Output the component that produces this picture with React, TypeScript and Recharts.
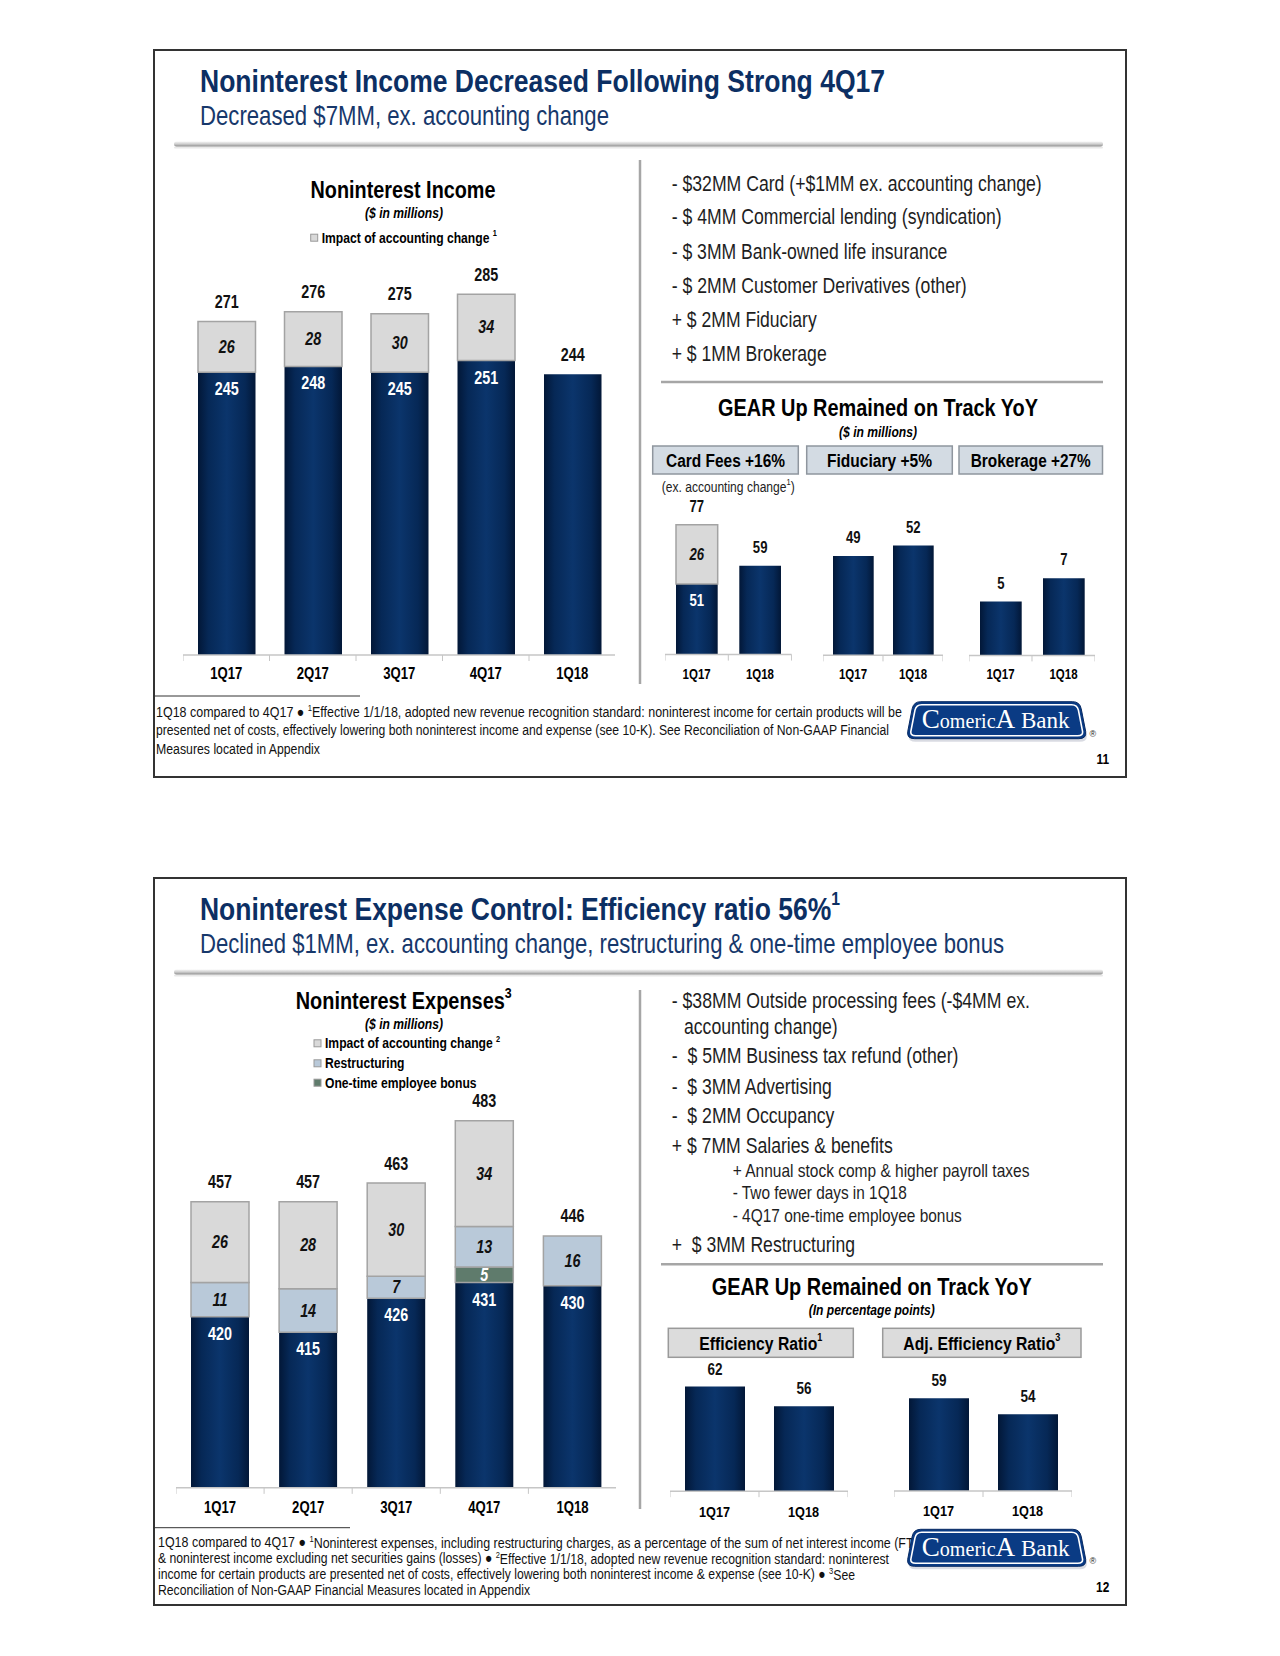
import React from "react";
import { BarChart, Bar, XAxis, YAxis, LabelList } from "recharts";

// Arial Narrow is not installed: Liberation Sans squeezed to 82% gives the same shapes.
const SANS = '"Liberation Sans", Arial, sans-serif';
const SX = 0.82;
const SERIF = '"Liberation Serif", "DejaVu Serif", serif';
const TITLE_BLUE = "#0c2f63";
const SUB_BLUE = "#17386b";
const ACCT_FILL = "#d9d9d9";
const RESTR_FILL = "#b9c9d9";
const BONUS_FILL = "#5f7b6c";
const SEG_STROKE = "#a3a3a3";

// ---- slide 11: noninterest income ----
const incomeQuarters = ["1Q17", "2Q17", "3Q17", "4Q17", "1Q18"];
const incomeCore = [245, 248, 245, 251, 244];
const incomeAccounting = [26, 28, 30, 34, 0];

const yoyQuarters = ["1Q17", "1Q18"];
const cardCore = [51, 59];
const cardAccounting = [26, 0];
const fiduciaryFees = [49, 52];
const brokerageFees = [5, 7];

// ---- slide 12: noninterest expenses ----
const expenseQuarters = ["1Q17", "2Q17", "3Q17", "4Q17", "1Q18"];
const expenseCore = [420, 415, 426, 431, 430];
const expenseBonus = [0, 0, 0, 5, 0];
const expenseRestructuring = [11, 14, 7, 13, 16];
const expenseAccounting = [26, 28, 30, 34, 0];
const efficiencyRatio = [62, 56];
const adjEfficiencyRatio = [59, 54];

type Layer = {
  key: string;
  values: number[];
  fill: string;
  stroke?: string;
  text?: "core" | "dark" | "light";
};

// narrow text: x/y is the anchor point, y is the visual middle of the line
function T(p: {
  x: number;
  y: number;
  size: number;
  bold?: boolean;
  italic?: boolean;
  color?: string;
  anchor?: "start" | "middle" | "end";
  fit?: number;
  children: React.ReactNode;
}) {
  return (
    <text
      transform={`translate(${p.x} ${p.y}) scale(${SX} 1)`}
      x={0}
      y={0}
      fontSize={p.size}
      fontFamily={SANS}
      fontWeight={p.bold ? 700 : 400}
      fontStyle={p.italic ? "italic" : "normal"}
      fill={p.color ?? "#000"}
      textAnchor={p.anchor ?? "start"}
      dominantBaseline="central"
      textLength={p.fit ? p.fit / SX : undefined}
      lengthAdjust={p.fit ? "spacingAndGlyphs" : undefined}
      style={{ whiteSpace: "pre" }}
    >
      {p.children}
    </text>
  );
}

const sup = (n: string, size: number, rise: number) => (
  <tspan fontSize={size} dy={-rise}>
    {n}
  </tspan>
);
const after = (text: string, rise: number) => <tspan dy={rise}>{text}</tspan>;

const vb = (p: any) => {
  const v = p.viewBox ?? p;
  return { x: Number(v.x), y: Number(v.y), w: Number(v.width), h: Number(v.height) };
};

// one label renderer per stacked layer: the segment value inside, and the
// stack total above the topmost non-empty segment
const stackLabels = (layers: Layer[], li: number, size: number, gap: number) => (p: any) => {
  const entry = p.value && typeof p.value === "object" ? p.value : null;
  const row = entry?.payload;
  if (!row) return null;
  const layer = layers[li];
  const v = row[layer.key];
  if (!v) return null;
  const { x, y, w, h } = vb(p);
  const above = layers.slice(li + 1).some((l) => row[l.key]);
  const top = Array.isArray(entry.value) ? entry.value[1] : entry.value;
  const core = layer.text === "core";
  return (
    <g>
      {layer.text && (!core || above) && (
        <T
          x={x + w / 2}
          y={core ? y + 17 : y + h / 2}
          size={size}
          bold
          italic={!core}
          anchor="middle"
          color={layer.text === "dark" ? "#111" : "#fff"}
        >
          {v}
        </T>
      )}
      {!above && (
        <T x={x + w / 2} y={y - gap} size={size} bold anchor="middle" color="#111">
          {top}
        </T>
      )}
    </g>
  );
};

const axisTick = (band: number, count: number, size: number, gap: number) => (p: any) => {
  const { x, y, index, payload } = p;
  return (
    <g>
      <line x1={x - band / 2} x2={x - band / 2} y1={y} y2={y + 6} stroke="#c6c6c6" />
      {index === count - 1 && (
        <line x1={x + band / 2} x2={x + band / 2} y1={y} y2={y + 6} stroke="#c6c6c6" />
      )}
      <T x={x} y={y + gap} size={size} bold anchor="middle">
        {payload.value}
      </T>
    </g>
  );
};

function StackedBars(props: {
  id: string;
  x: number;
  y: number;
  width: number;
  plotHeight: number;
  domain: [number, number];
  categories: string[];
  layers: Layer[];
  barSize: number;
  valueSize: number;
  tickSize: number;
  tickGap: number;
  totalGap: number;
}) {
  const { id, x, y, width, plotHeight, domain, categories, layers } = props;
  const data = categories.map((q, i) => {
    const row: Record<string, any> = { q };
    layers.forEach((l) => (row[l.key] = l.values[i]));
    return row;
  });
  const band = width / categories.length;
  return (
    <div style={{ position: "absolute", left: x, top: y }}>
      <BarChart
        width={width}
        height={plotHeight + 40}
        data={data}
        margin={{ top: 0, right: 0, bottom: 0, left: 0 }}
      >
        <defs>
          <linearGradient id={id} x1="0" y1="0" x2="1" y2="0">
            <stop offset="0" stopColor="#021737" />
            <stop offset="0.18" stopColor="#062856" />
            <stop offset="0.5" stopColor="#0b356c" />
            <stop offset="0.82" stopColor="#062856" />
            <stop offset="1" stopColor="#021737" />
          </linearGradient>
        </defs>
        <XAxis
          dataKey="q"
          height={40}
          interval={0}
          tickLine={false}
          tickSize={0}
          tickMargin={0}
          axisLine={{ stroke: "#c6c6c6", strokeWidth: 1.5 }}
          tick={axisTick(band, categories.length, props.tickSize, props.tickGap)}
        />
        <YAxis hide domain={domain} allowDataOverflow />
        {layers.map((l, li) => (
          <Bar
            key={l.key}
            dataKey={l.key}
            stackId="s"
            barSize={props.barSize}
            fill={l.fill === "navy" ? `url(#${id})` : l.fill}
            stroke={l.stroke}
            strokeWidth={l.stroke ? 1.5 : 0}
            isAnimationActive={false}
          >
            <LabelList
              valueAccessor={(entry: any) => entry}
              content={stackLabels(layers, li, props.valueSize, props.totalGap)}
            />
          </Bar>
        ))}
      </BarChart>
    </div>
  );
}

const OUTER =
  "M 14 1 L 166 1 Q 173 1 174.5 8 L 179 31 Q 180 38 172 38 L 8 38 Q 0 38 1 31 L 5.5 8 Q 7 1 14 1 Z";
const INNER =
  "M 15 4 L 165 4 Q 170.5 4 171.7 9.5 L 175.8 30.5 Q 176.6 35 171 35 L 9 35 Q 3.4 35 4.2 30.5 L 8.3 9.5 Q 9.5 4 15 4 Z";

function Logo({ x, y, page }: { x: number; y: number; page: string }) {
  return (
    <g>
      <g transform={`translate(${x},${y})`}>
        <path d={OUTER} transform="translate(1,3)" fill="#c9ccd6" opacity={0.7} />
        <path d={OUTER} fill="#0a3b84" stroke="#072a63" strokeWidth={1} />
        <path d={INNER} fill="none" stroke="#fff" strokeWidth={1.6} />
        <text
          x={89}
          y={27.5}
          textAnchor="middle"
          fontFamily={SERIF}
          fontSize={23}
          fill="#fff"
          textLength={148}
          lengthAdjust="spacingAndGlyphs"
        >
          <tspan fontSize={27}>C</tspan>
          <tspan fontSize={20}>omeric</tspan>
          <tspan fontSize={27}>A</tspan>
          <tspan> Bank</tspan>
        </text>
      </g>
      <text x={x + 186} y={y + 36} fontSize={9} fontFamily={SANS} fill="#222" textAnchor="middle">
        ®
      </text>
      <T x={949.7} y={710.5} size={14.5} bold anchor="middle">
        {page}
      </T>
    </g>
  );
}

function TitleRule({ id }: { id: string }) {
  return (
    <>
      <defs>
        <linearGradient id={id} x1="0" y1="0" x2="0" y2="1">
          <stop offset="0" stopColor="#f4f4f4" />
          <stop offset="0.5" stopColor="#cfcfcf" />
          <stop offset="1" stopColor="#8e8e8e" />
        </linearGradient>
      </defs>
      <rect x={21} y={97.5} width={929} height={2} rx={1} fill="#e8e8e8" />
      <rect x={21} y={92.5} width={929} height={5} rx={2.5} fill={`url(#${id})`} />
    </>
  );
}

function Slide({ top, children, overlay }: { top: number; children: React.ReactNode; overlay: React.ReactNode }) {
  return (
    <div
      style={{
        position: "absolute",
        left: 153,
        top,
        width: 974,
        height: 729,
        background: "#fff",
        boxShadow: "inset 0 0 0 2px #333",
      }}
    >
      <svg width={974} height={729} style={{ position: "absolute", left: 0, top: 0 }}>
        {overlay}
      </svg>
      {children}
    </div>
  );
}

const incomeBullets = [
  { text: "- $32MM Card (+$1MM ex. accounting change)", y: 134.3, fit: 370 },
  { text: "- $ 4MM Commercial lending (syndication)", y: 167.7, fit: 330 },
  { text: "- $ 3MM Bank-owned life insurance", y: 202, fit: 275.7 },
  { text: "- $ 2MM Customer Derivatives (other)", y: 236, fit: 295 },
  { text: "+ $ 2MM Fiduciary", y: 270, fit: 145 },
  { text: "+ $ 1MM Brokerage", y: 304.3, fit: 155 },
];

const expenseBullets = [
  { text: "- $38MM Outside processing fees (-$4MM ex.", x: 518.7, y: 123, size: 21.5, fit: 358.3 },
  { text: "accounting change)", x: 531, y: 149, size: 21.5, fit: 153.7 },
  { text: "-  $ 5MM Business tax refund (other)", x: 518.7, y: 178.7, size: 21.5, fit: 286.7 },
  { text: "-  $ 3MM Advertising", x: 518.7, y: 209, size: 21.5, fit: 160 },
  { text: "-  $ 2MM Occupancy", x: 518.7, y: 238.7, size: 21.5, fit: 162.7 },
  { text: "+ $ 7MM Salaries & benefits", x: 518.7, y: 268, size: 21.5, fit: 221 },
  { text: "+ Annual stock comp & higher payroll taxes", x: 579.7, y: 293, size: 18, fit: 296.7 },
  { text: "- Two fewer days in 1Q18", x: 579.7, y: 315.7, size: 18, fit: 174 },
  { text: "- 4Q17 one-time employee bonus", x: 579.7, y: 338.7, size: 18, fit: 229 },
  { text: "+  $ 3MM Restructuring", x: 518.7, y: 367, size: 21.5, fit: 183.3 },
];

function IncomeOverlay() {
  return (
    <>
      <T x={47} y={32} size={32} bold color={TITLE_BLUE} fit={685}>
        Noninterest Income Decreased Following Strong 4Q17
      </T>
      <T x={47} y={67} size={27} color={SUB_BLUE} fit={409}>
        Decreased $7MM, ex. accounting change
      </T>
      <TitleRule id="rule11" />
      <line x1={487} x2={487} y1={111} y2={635} stroke="#a6a6a6" strokeWidth={2.5} />

      <T x={250} y={140.3} size={24} bold anchor="middle" fit={185}>
        Noninterest Income
      </T>
      <T x={251} y={163.7} size={14} bold italic anchor="middle" fit={78}>
        ($ in millions)
      </T>
      <rect x={157.7} y={185.2} width={7} height={7} fill={ACCT_FILL} stroke="#999" strokeWidth={1} />
      <T x={168.7} y={188.7} size={14.8} bold>
        {"Impact of accounting change "}
        {sup("1", 9, 5)}
      </T>

      {incomeBullets.map((b) => (
        <T key={b.text} x={518.7} y={b.y} size={21.5} color="#1e1e1e" fit={b.fit}>
          {b.text}
        </T>
      ))}
      <line x1={508} x2={950} y1={333} y2={333} stroke="#a6a6a6" strokeWidth={2.5} />
      <T x={725} y={359} size={24} bold anchor="middle" fit={320}>
        GEAR Up Remained on Track YoY
      </T>
      <T x={725} y={382.7} size={14} bold italic anchor="middle" fit={78}>
        ($ in millions)
      </T>
      {[
        { x: 499.7, w: 145.6, label: "Card Fees +16%", fit: 119 },
        { x: 653.7, w: 145.6, label: "Fiduciary +5%", fit: 105 },
        { x: 806, w: 143.5, label: "Brokerage +27%", fit: 120 },
      ].map((b) => (
        <g key={b.label}>
          <rect x={b.x} y={397} width={b.w} height={28} fill="#d3dbe3" stroke="#8f969e" strokeWidth={1.5} />
          <T x={b.x + b.w / 2} y={411} size={19} bold anchor="middle" fit={b.fit}>
            {b.label}
          </T>
        </g>
      ))}
      <T x={508.7} y={438} size={14.5} color="#222" fit={133}>
        {"(ex. accounting change"}
        {sup("1", 9, 5)}
        {after(")", 5)}
      </T>

      <line x1={0} x2={207} y1={647} y2={647} stroke="#333" strokeWidth={1} />
      <T x={3} y={663} size={14.7} color="#111" fit={746}>
        {"1Q18 compared to 4Q17 \u25cf "}
        {sup("1", 9, 4)}
        {after(
          "Effective 1/1/18, adopted new revenue recognition standard: noninterest income for certain products will be",
          4
        )}
      </T>
      <T x={3} y={681.5} size={14.7} color="#111" fit={733}>
        presented net of costs, effectively lowering both noninterest income and expense (see 10-K). See Reconciliation of Non-GAAP Financial
      </T>
      <T x={3} y={700} size={14.7} color="#111" fit={164}>
        Measures located in Appendix
      </T>
      <Logo x={753.7} y={651.7} page="11" />
    </>
  );
}

function ExpenseOverlay() {
  return (
    <>
      <T x={47} y={32} size={32} bold color={TITLE_BLUE} fit={640}>
        {"Noninterest Expense Control: Efficiency ratio 56%"}
        {sup("1", 19, 11)}
      </T>
      <T x={47} y={67} size={27} color={SUB_BLUE} fit={804}>
        Declined $1MM, ex. accounting change, restructuring & one-time employee bonus
      </T>
      <TitleRule id="rule12" />
      <line x1={487} x2={487} y1={113} y2={632} stroke="#a6a6a6" strokeWidth={2.5} />

      <T x={250.7} y={124} size={24} bold anchor="middle" fit={216}>
        {"Noninterest Expenses"}
        {sup("3", 15, 8)}
      </T>
      <T x={251} y={147} size={14} bold italic anchor="middle" fit={78}>
        ($ in millions)
      </T>
      {[
        { y: 166.3, fill: ACCT_FILL, label: "Impact of accounting change ", sup: "2" },
        { y: 186.3, fill: RESTR_FILL, label: "Restructuring" },
        { y: 205.7, fill: BONUS_FILL, label: "One-time employee bonus" },
      ].map((l) => (
        <g key={l.label}>
          <rect x={161} y={l.y - 3.5} width={7} height={7} fill={l.fill} stroke="#999" strokeWidth={1} />
          <T x={172} y={l.y} size={14.8} bold>
            {l.label}
            {l.sup && sup(l.sup, 9, 5)}
          </T>
        </g>
      ))}

      {expenseBullets.map((b) => (
        <T key={b.text} x={b.x} y={b.y} size={b.size} color="#1e1e1e" fit={b.fit}>
          {b.text}
        </T>
      ))}
      <line x1={508} x2={950} y1={387.3} y2={387.3} stroke="#a6a6a6" strokeWidth={2.5} />
      <T x={718.7} y={409.7} size={24} bold anchor="middle" fit={320}>
        GEAR Up Remained on Track YoY
      </T>
      <T x={718.7} y={433} size={14} bold italic anchor="middle" fit={126}>
        (In percentage points)
      </T>
      {[
        { x: 515.3, w: 185, label: "Efficiency Ratio", sup: "1", fit: 123 },
        { x: 729.7, w: 198.3, label: "Adj. Efficiency Ratio", sup: "3", fit: 157 },
      ].map((b) => (
        <g key={b.label}>
          <rect x={b.x} y={451.3} width={b.w} height={29} fill="#dcdcdc" stroke="#9a9a9a" strokeWidth={1.5} />
          <T x={b.x + b.w / 2} y={466} size={19} bold anchor="middle" fit={b.fit}>
            {b.label}
            {sup(b.sup, 11, 6)}
          </T>
        </g>
      ))}

      <line x1={0} x2={197} y1={650.7} y2={650.7} stroke="#333" strokeWidth={1} />
      <T x={5} y={665.3} size={14.7} color="#111" fit={768}>
        {"1Q18 compared to 4Q17 \u25cf "}
        {sup("1", 9, 4)}
        {after(
          "Noninterest expenses, including restructuring charges, as a percentage of the sum of net interest income (FTE)",
          4
        )}
      </T>
      <T x={5} y={681.3} size={14.7} color="#111" fit={731}>
        {"& noninterest income excluding net securities gains (losses) \u25cf "}
        {sup("2", 9, 4)}
        {after("Effective 1/1/18, adopted new revenue recognition standard: noninterest", 4)}
      </T>
      <T x={5} y={697.3} size={14.7} color="#111" fit={697}>
        {"income for certain products are presented net of costs, effectively lowering both noninterest income & expense (see 10-K) \u25cf "}
        {sup("3", 9, 4)}
        {after("See", 4)}
      </T>
      <T x={5} y={713} size={14.7} color="#111" fit={372}>
        Reconciliation of Non-GAAP Financial Measures located in Appendix
      </T>
      <Logo x={753.7} y={651.3} page="12" />
    </>
  );
}

export default function App() {
  return (
    <div style={{ position: "absolute", left: 0, top: 0, width: 1280, height: 1656, background: "#fff" }}>
      <Slide top={49} overlay={<IncomeOverlay />}>
        <StackedBars
          id="navyIncome"
          x={29.7}
          y={177}
          width={432.5}
          plotHeight={429}
          domain={[100, 320]}
          categories={incomeQuarters}
          layers={[
            { key: "core", values: incomeCore, fill: "navy", text: "core" },
            { key: "acct", values: incomeAccounting, fill: ACCT_FILL, stroke: SEG_STROKE, text: "dark" },
          ]}
          barSize={57.5}
          valueSize={17.5}
          tickSize={16}
          tickGap={19}
          totalGap={19.5}
        />
        <StackedBars
          id="navyCard"
          x={512}
          y={446.4}
          width={126.6}
          plotHeight={159.6}
          domain={[20, 90]}
          categories={yoyQuarters}
          layers={[
            { key: "core", values: cardCore, fill: "navy", text: "core" },
            { key: "acct", values: cardAccounting, fill: ACCT_FILL, stroke: SEG_STROKE, text: "dark" },
          ]}
          barSize={41.7}
          valueSize={16}
          tickSize={14}
          tickGap={19}
          totalGap={18.5}
        />
        <StackedBars
          id="navyFid"
          x={670}
          y={451.65}
          width={120}
          plotHeight={154.35}
          domain={[20, 65]}
          categories={yoyQuarters}
          layers={[{ key: "fees", values: fiduciaryFees, fill: "navy" }]}
          barSize={40.7}
          valueSize={16}
          tickSize={14}
          tickGap={19}
          totalGap={18.5}
        />
        <StackedBars
          id="navyBrk"
          x={815.5}
          y={458.6}
          width={126}
          plotHeight={147.4}
          domain={[0.4, 13]}
          categories={yoyQuarters}
          layers={[{ key: "fees", values: brokerageFees, fill: "navy" }]}
          barSize={41.7}
          valueSize={16}
          tickSize={14}
          tickGap={19}
          totalGap={18.5}
        />
      </Slide>

      <Slide top={877} overlay={<ExpenseOverlay />}>
        <StackedBars
          id="navyExpense"
          x={22.5}
          y={191.15}
          width={440.5}
          plotHeight={419.85}
          domain={[365, 500]}
          categories={expenseQuarters}
          layers={[
            { key: "core", values: expenseCore, fill: "navy", text: "core" },
            { key: "bonus", values: expenseBonus, fill: BONUS_FILL, stroke: SEG_STROKE, text: "light" },
            { key: "restr", values: expenseRestructuring, fill: RESTR_FILL, stroke: SEG_STROKE, text: "dark" },
            { key: "acct", values: expenseAccounting, fill: ACCT_FILL, stroke: SEG_STROKE, text: "dark" },
          ]}
          barSize={58}
          valueSize={17.5}
          tickSize={16}
          tickGap={20}
          totalGap={19.5}
        />
        <StackedBars
          id="navyEff"
          x={516.5}
          y={466.85}
          width={178}
          plotHeight={147.15}
          domain={[30, 75]}
          categories={yoyQuarters}
          layers={[{ key: "ratio", values: efficiencyRatio, fill: "navy" }]}
          barSize={60}
          valueSize={16.5}
          tickSize={15.5}
          tickGap={20}
          totalGap={18}
        />
        <StackedBars
          id="navyAdj"
          x={741.3}
          y={470}
          width={178}
          plotHeight={144}
          domain={[30, 75]}
          categories={yoyQuarters}
          layers={[{ key: "ratio", values: adjEfficiencyRatio, fill: "navy" }]}
          barSize={60}
          valueSize={16.5}
          tickSize={15.5}
          tickGap={20}
          totalGap={18}
        />
      </Slide>
    </div>
  );
}
